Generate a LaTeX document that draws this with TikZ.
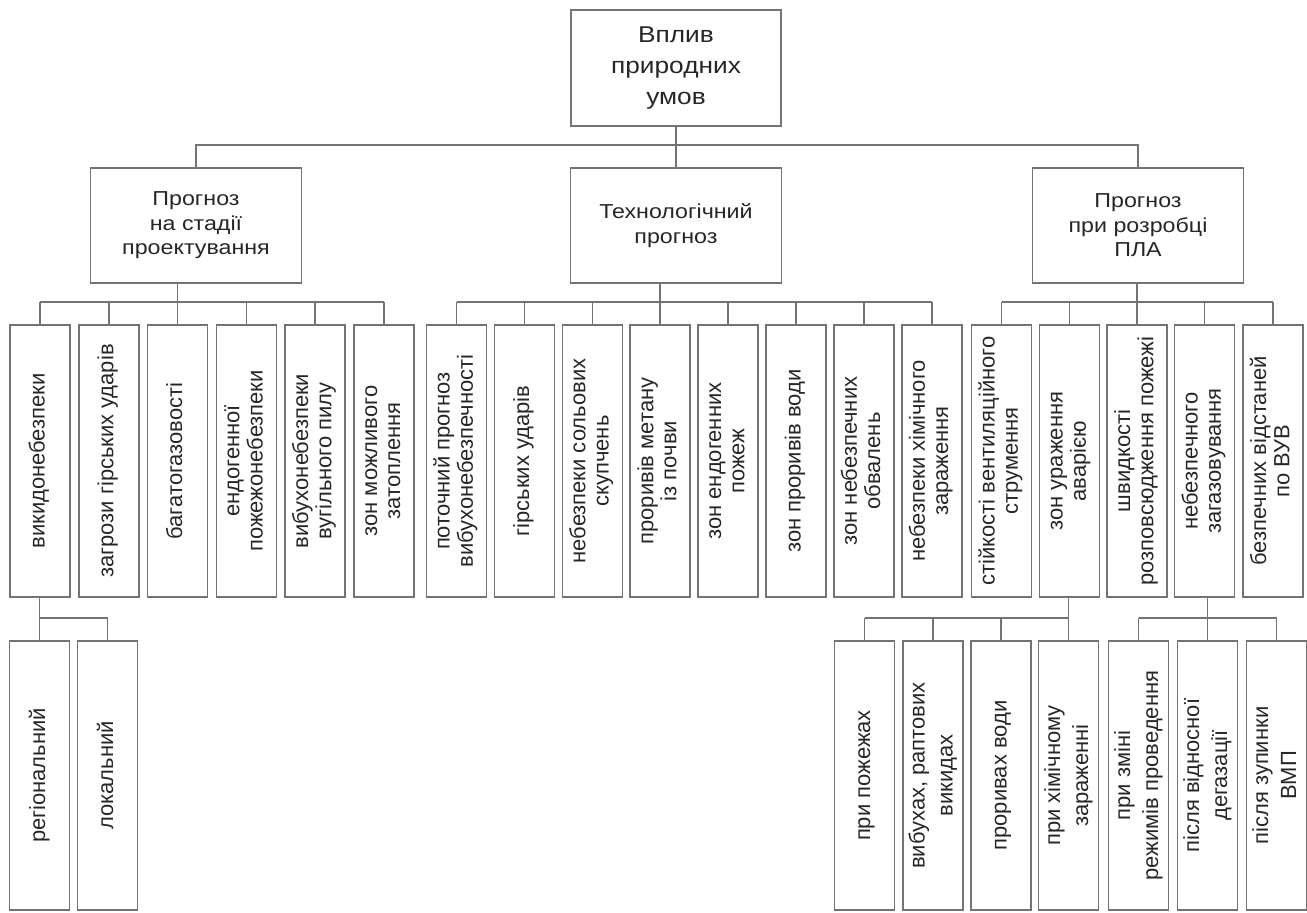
\documentclass[tikz,border=0pt]{standalone}
\usepackage{fontspec}
\setmainfont{Liberation Sans}
\newfontfamily\widefont[FakeStretch=1.15]{Liberation Sans}
\usetikzlibrary{positioning}
\tikzset{>=stealth}
\newcommand{\vlab}[1]{\rotatebox{90}{\begin{tabular}{@{}c@{}}#1\end{tabular}}}

\begin{document}
\begin{tikzpicture}[x=0.02cm, y=-0.02cm,
  box/.style={draw=black!55, line width=0.9pt, text=black!85, inner sep=0pt},
  topbox/.style={box, minimum width=4.2cm, minimum height=2.32cm, align=center, font=\widefont\fontsize{13}{17.5}\selectfont},
  midbox/.style={box, minimum width=4.22cm, minimum height=2.3cm, align=center, font=\widefont\fontsize{11.5}{14}\selectfont},
  colbox/.style={box, minimum width=1.2cm, minimum height=5.44cm, font=\fontsize{12.5}{13.2}\selectfont},
  subbox/.style={box, minimum width=1.2cm, minimum height=5.38cm, font=\fontsize{12.5}{16}\selectfont},
  link/.style={draw=black!55, line width=0.9pt}]
\useasboundingbox (0,0) rectangle (1307,912);

\node[topbox](top) at (676,68) {Вплив\\природних\\умов};
\node[midbox](p1) at (196,225.5) {Прогноз\\на стадії\\проектування};
\node[midbox](p2) at (676,225.5) {Технологічний\\прогноз};
\node[midbox](p3) at (1138,225.5) {Прогноз\\при розробці\\ПЛА};

% design stage
\node[colbox](c1) at (40,461) {\vlab{викидонебезпеки}};
\node[colbox](c2) at (108.8,461) {\vlab{загрози гірських ударів}};
\node[colbox](c3) at (177.6,461) {\vlab{багатогазовості}};
\node[colbox](c4) at (246.4,461) {\vlab{ендогенної\\пожежонебезпеки}};
\node[colbox](c5) at (315.2,461) {\vlab{вибухонебезпеки\\вугільного пилу}};
\node[colbox](c6) at (384,461) {\vlab{зон можливого\\затоплення}};

% technological
\node[colbox](m1) at (456.5,461) {\vlab{поточний прогноз\\вибухонебезпечності}};
\node[colbox](m2) at (524.4,461) {\vlab{гірських ударів}};
\node[colbox](m3) at (592.3,461) {\vlab{небезпеки сольових\\скупчень}};
\node[colbox](m4) at (660.2,461) {\vlab{проривів метану\\із почви}};
\node[colbox](m5) at (728.1,461) {\vlab{зон ендогенних\\пожеж}};
\node[colbox](m6) at (796,461) {\vlab{зон проривів води}};
\node[colbox](m7) at (863.9,461) {\vlab{зон небезпечних\\обвалень}};
\node[colbox](m8) at (931.8,461) {\vlab{небезпеки хімічного\\зараження}};

% PLA
\node[colbox](r1) at (1001.5,461) {\vlab{стійкості вентиляційного\\струмення}};
\node[colbox](r2) at (1069.5,461) {\vlab{зон ураження\\аварією}};
\node[colbox](r3) at (1137,461) {\vlab{швидкості\\розповсюдження пожежі}};
\node[colbox](r4) at (1204.5,461) {\vlab{небезпечного\\загазовування}};
\node[colbox](r5) at (1273,461) {\vlab{безпечних відстаней\\по ВУВ}};

% fourth row
\node[subbox](l1) at (39.5,775.5) {\vlab{регіональний}};
\node[subbox](l2) at (107.5,775.5) {\vlab{локальний}};
\node[subbox](s1) at (864.5,775.5) {\vlab{при пожежах}};
\node[subbox](s2) at (933,775.5) {\vlab{вибухах, раптових\\викидах}};
\node[subbox](s3) at (1001,775.5) {\vlab{проривах води}};
\node[subbox](s4) at (1068.5,775.5) {\vlab{при хімічному\\зараженні}};
\node[subbox](s5) at (1138.5,775.5) {\vlab{при зміні\\режимів проведення}};
\node[subbox](s6) at (1207.5,775.5) {\vlab{після відносної\\дегазації}};
\node[subbox](s7) at (1276.5,775.5) {\vlab{після зупинки\\ВМП}};

\coordinate (bus0) at (0,145);
\coordinate (bus1) at (0,302);
\coordinate (bus2) at (0,618);

\draw[link](top.south)--(p2.north);
\draw[link](p1.north)--(p1.north |- bus0)--(p3.north |- bus0)--(p3.north);

\draw[link](p1.south -| c3.north)--(c3.north);
\draw[link](c1.north |- bus1)--(c6.north |- bus1);
\foreach \i in {1,...,6} \draw[link](c\i.north)--(c\i.north |- bus1);

\draw[link](p2.south -| m4.north)--(m4.north);
\draw[link](m1.north |- bus1)--(m8.north |- bus1);
\foreach \i in {1,...,8} \draw[link](m\i.north)--(m\i.north |- bus1);

\draw[link](p3.south -| r3.north)--(r3.north);
\draw[link](r1.north |- bus1)--(r5.north |- bus1);
\foreach \i in {1,...,5} \draw[link](r\i.north)--(r\i.north |- bus1);

\draw[link](c1.south -| l1.north)--(l1.north);
\draw[link](l1.north |- bus2)--(l2.north |- bus2)--(l2.north);

\draw[link](r2.south -| s4.north)--(s4.north);
\draw[link](s1.north |- bus2)--(s4.north |- bus2);
\foreach \i in {1,...,3} \draw[link](s\i.north)--(s\i.north |- bus2);

\draw[link](r4.south -| s6.north)--(s6.north);
\draw[link](s5.north |- bus2)--(s5.north)  (s5.north |- bus2)--(s7.north |- bus2)--(s7.north);

\end{tikzpicture}
\end{document}
